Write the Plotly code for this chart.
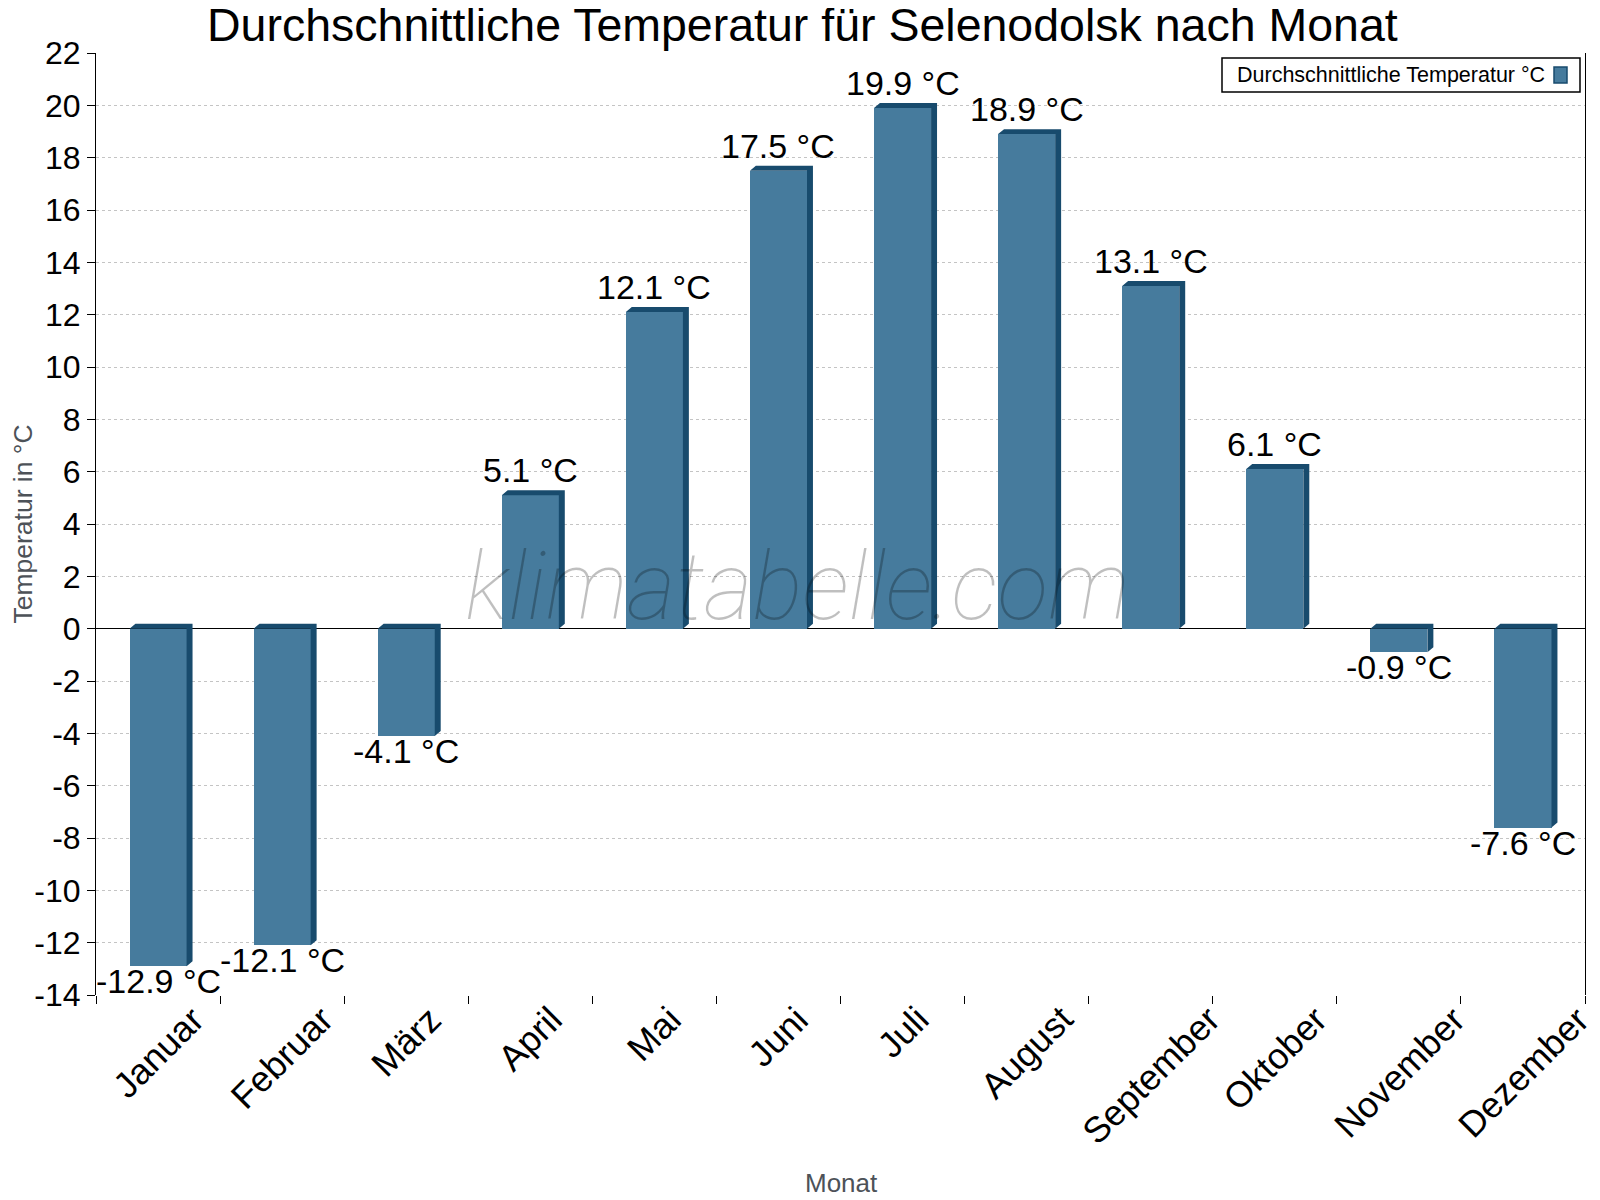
import plotly.graph_objects as go

# Monatswerte
monate = ["Januar", "Februar", "März", "April", "Mai", "Juni",
          "Juli", "August", "September", "Oktober", "November", "Dezember"]
temperatur = [-12.9, -12.1, -4.1, 5.1, 12.1, 17.5, 19.9, 18.9, 13.1, 6.1, -0.9, -7.6]
y_ticks = list(range(-14, 23, 2))

title_text = "Durchschnittliche Temperatur für Selenodolsk nach Monat"
legend_text = "Durchschnittliche Temperatur °C"

FRONT = "#467b9d"
DARK = "#184b6d"
FONT = "Liberation Sans, Arial, sans-serif"

# page is drawn with the default 8px body margin, so plan in screen pixels
OFF = 8
W, H = 1600, 1200
ML = 96 - OFF
MT = 53 - OFF
MR = W - (1585 - OFF)
MB = H - (995 - OFF)
PW = W - ML - MR
PH = H - MT - MB

bar_w = 0.46
dx = 0.048   # depth in x (category units)
dy = 0.19    # depth in y (°C units)

x_pos = list(range(len(monate)))

# dark "3D" faces (top + right side) built from the values
px_, py_ = [], []
for i, v in zip(x_pos, temperatur):
    x0, x1 = i - bar_w / 2, i + bar_w / 2
    t, b = max(v, 0), min(v, 0)
    px_ += [x0, x0 + dx, x1 + dx, x1 + dx, x1, x1, x0, None]
    py_ += [t, t + dy, t + dy, b + dy, b, t, t, None]


def fx(p):
    # screen x pixel -> paper fraction
    return (p - OFF - ML) / PW


def fy(p):
    # screen y pixel -> paper fraction
    return 1 - (p - OFF - MT) / PH


fig = go.Figure()

fig.add_trace(go.Bar(
    x=x_pos, y=temperatur, width=bar_w,
    marker=dict(color=FRONT, line=dict(width=0)),
    cliponaxis=False,
    showlegend=False,
))

fig.add_trace(go.Scatter(
    x=px_, y=py_, mode="lines", fill="toself",
    fillcolor=DARK, line=dict(width=0, color=DARK),
    hoverinfo="skip", showlegend=False,
))

# value labels: above positive bars, just below negative ones
for i, v in zip(x_pos, temperatur):
    fig.add_annotation(
        text=f"{v} °C", x=i, y=v, xref="x", yref="y",
        xanchor="center", yanchor="bottom" if v >= 0 else "top",
        yshift=4 if v >= 0 else 6,
        showarrow=False, font=dict(size=34, color="black", family=FONT),
    )

fig.update_layout(
    width=W, height=H,
    margin=dict(l=ML, r=MR, t=MT, b=MB, autoexpand=False),
    paper_bgcolor="white", plot_bgcolor="white",
    font=dict(family=FONT, color="black"),
    showlegend=False,
    bargap=0,
)

# title
fig.add_annotation(
    text=title_text, xref="paper", yref="paper",
    x=fx(802), y=fy(38), xanchor="center", yanchor="bottom",
    yshift=-15, showarrow=False,
    font=dict(size=46.5, color="black"),
)

# tick marks on the category borders, labels centred under each month
fig.update_xaxes(
    range=[-0.5, len(monate) - 0.5 + 1e-6],
    tickmode="array",
    tickvals=[i - 0.5 for i in range(len(monate) + 1)],
    ticktext=[""] * (len(monate) + 1),
    ticks="outside", ticklen=8, tickcolor="black", tickwidth=1,
    showgrid=False, showline=False, zeroline=False,
    automargin=False,
)
for i, m in zip(x_pos, monate):
    fig.add_annotation(
        text=m, x=i, xref="x", y=fy(996), yref="paper",
        textangle=-45, xanchor="center", yanchor="top",
        showarrow=False, font=dict(size=36, color="black"),
    )

# x axis title
fig.add_annotation(
    text="Monat", xref="paper", yref="paper",
    x=fx(841), y=fy(1183), xanchor="center", yanchor="middle",
    showarrow=False, font=dict(size=26, color="#4d5258"),
)

fig.update_yaxes(
    range=[-14, 22],
    tickmode="array", tickvals=y_ticks, ticktext=[str(v) for v in y_ticks],
    tickfont=dict(size=32, color="black"),
    ticks="outside", ticklen=8, tickcolor="black", tickwidth=1,
    showline=True, linecolor="black", linewidth=1, mirror=True,
    showgrid=True, gridcolor="#c4c4c4", griddash="dot", gridwidth=1,
    zeroline=True, zerolinecolor="black", zerolinewidth=1,
    automargin=False,
    title=dict(text="Temperatur in °C", font=dict(size=26.5, color="#4d5258"), standoff=6),
)

# watermark
fig.add_annotation(
    text="klimatabelle.com", xref="paper", yref="paper",
    x=fx(797), y=fy(629), xanchor="center", yanchor="bottom",
    showarrow=False, yshift=-15,
    font=dict(family="Roboto", size=94, color="rgba(0,0,0,0.25)", style="italic", weight=100),
)

# legend box (symbol placed right of the text, as in the original)
fig.add_shape(type="rect", xref="paper", yref="paper",
              x0=fx(1222), x1=fx(1580), y0=fy(92), y1=fy(58),
              line=dict(color="black", width=1.5), fillcolor="white")
fig.add_annotation(text=legend_text, xref="paper", yref="paper",
                   x=fx(1235), y=fy(75), xanchor="left", yanchor="middle",
                   showarrow=False, font=dict(size=21.5, color="black"))
fig.add_shape(type="rect", xref="paper", yref="paper",
              x0=fx(1554), x1=fx(1567), y0=fy(83), y1=fy(67),
              line=dict(color=DARK, width=1.5), fillcolor=FRONT)

fig.write_html("out.html")
